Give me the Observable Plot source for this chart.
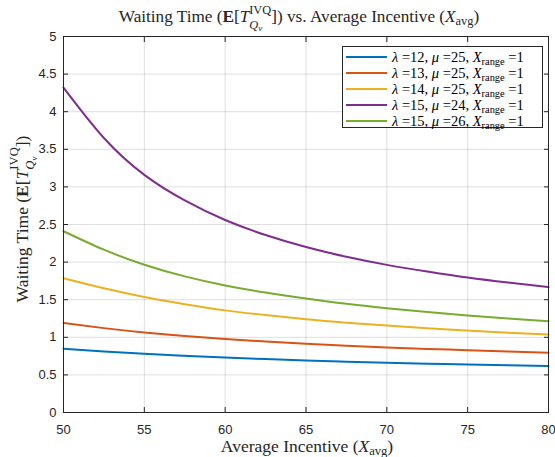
<!DOCTYPE html>
<html>
<head>
<meta charset="utf-8">
<script src="https://cdn.jsdelivr.net/npm/d3@7"></script>
<script src="https://cdn.jsdelivr.net/npm/@observablehq/plot@0.6"></script>
<style>
  html, body { margin: 0; padding: 0; background: #fff; }
  #wrap { position: relative; width: 555px; height: 457px; overflow: hidden; }
  .tx { position: absolute; font-family: "Liberation Serif", "DejaVu Serif", serif; color: #262626; white-space: nowrap; line-height: 1.2; }
  .it { font-style: italic; }
  .bf { font-weight: bold; }
  .ss { display: inline-block; vertical-align: middle; line-height: 1; text-align: left; position: relative; }
  .ss .up { display: block; font-size: 0.72em; position: relative; top: -0.2em; }
  .ss .dn { display: block; font-size: 0.72em; position: relative; top: 0.05em; }
  sub { font-size: 0.72em; vertical-align: -0.25em; line-height: 0; }
  #legend { position: absolute; background: #fff; border: 1px solid #262626; box-sizing: border-box; }
  #legend .row { position: absolute; left: 0; height: 16px; display: flex; align-items: center; }
  #legend .sw { width: 41px; height: 2px; margin-left: 3px; margin-right: 5px; }
  #legend .lt { font-family: "Liberation Serif", "DejaVu Serif", serif; font-size: 14.5px; color: #000; white-space: nowrap; }
</style>
</head>
<body>
<div id="wrap"></div>
<script>
// ---- data ----
const xValues = [50, 52.5, 55, 57.5, 60, 62.5, 65, 67.5, 70, 72.5, 75, 77.5, 80];
const seriesLabels = ["λ12μ25", "λ13μ25", "λ14μ25", "λ15μ24", "λ15μ26"];
const lambdas = [12, 13, 14, 15, 15];
const mus = [25, 25, 25, 24, 26];
const xRange = 1;
const s1 = [0.848, 0.812, 0.780, 0.754, 0.730, 0.710, 0.692, 0.676, 0.662, 0.649, 0.638, 0.628, 0.620];
const s2 = [1.190, 1.122, 1.064, 1.017, 0.978, 0.944, 0.915, 0.889, 0.866, 0.846, 0.828, 0.811, 0.795];
const s3 = [1.786, 1.652, 1.536, 1.440, 1.358, 1.295, 1.240, 1.195, 1.156, 1.120, 1.090, 1.062, 1.037];
const s4 = [4.32, 3.65, 3.16, 2.82, 2.56, 2.36, 2.20, 2.07, 1.963, 1.875, 1.795, 1.728, 1.667];
const s5 = [2.41, 2.165, 1.965, 1.81, 1.69, 1.595, 1.515, 1.445, 1.387, 1.335, 1.29, 1.25, 1.214];
const seriesValues = [s1, s2, s3, s4, s5];
const colors = ["#0072BD", "#D95319", "#EDB120", "#7E2F8E", "#77AC30"];
const xTicks = [50, 55, 60, 65, 70, 75, 80];
const yTicks = [0, 0.5, 1, 1.5, 2, 2.5, 3, 3.5, 4, 4.5, 5];

const rows = [];
seriesValues.forEach((vals, i) => vals.forEach((v, j) => rows.push({x: xValues[j], y: v, s: seriesLabels[i]})));

const W = 555, H = 457;
const chart = Plot.plot({
  width: W, height: H,
  marginLeft: 63, marginRight: 7, marginTop: 36, marginBottom: 45,
  style: {fontFamily: "'Liberation Sans', Arial, sans-serif", fontSize: "13px", color: "#262626", background: "#fff"},
  x: {domain: [50, 80]},
  y: {domain: [0, 5]},
  color: {domain: seriesLabels, range: colors},
  marks: [
    Plot.gridX(xTicks, {stroke: "#262626", strokeOpacity: 0.15, strokeWidth: 1}),
    Plot.gridY(yTicks, {stroke: "#262626", strokeOpacity: 0.15, strokeWidth: 1}),
    Plot.line(rows, {x: "x", y: "y", stroke: "s", z: "s", strokeWidth: 2, curve: "natural"}),
    Plot.axisX(xTicks, {anchor: "bottom", tickSize: 0, tickPadding: 12, label: null, tickFormat: d => String(d), fontSize: 13}),
    Plot.axisY(yTicks, {anchor: "left", tickSize: 0, tickPadding: 7, label: null, tickFormat: d => String(d), fontSize: 13}),
    Plot.axisX(xTicks, {anchor: "bottom", tickSize: -5, label: null, tickFormat: () => "", stroke: "#262626"}),
    Plot.axisX(xTicks, {anchor: "top", tickSize: -5, label: null, tickFormat: () => "", stroke: "#262626"}),
    Plot.axisY(yTicks, {anchor: "left", tickSize: -5, label: null, tickFormat: () => "", stroke: "#262626"}),
    Plot.axisY(yTicks, {anchor: "right", tickSize: -5, label: null, tickFormat: () => "", stroke: "#262626"}),
    Plot.frame({stroke: "#262626", strokeWidth: 1})
  ]
});
const wrap = document.getElementById("wrap");
wrap.appendChild(chart);

function addText(html, css) {
  const d = document.createElement("div");
  d.className = "tx";
  d.innerHTML = html;
  Object.assign(d.style, css);
  wrap.appendChild(d);
  return d;
}
const TQ = '<span class="it">T</span><span class="ss"><span class="up">IVQ</span><span class="dn"><span class="it">Q</span><sub class="it">v</sub></span></span>';
// title
addText('Waiting Time (<span class="bf">E</span>[' + TQ + ']) vs. Average Incentive (<span class="it">X</span><sub>avg</sub>)',
  {left: "299px", top: "18px", fontSize: "17.2px", transform: "translate(-50%,-50%)"});
// x label
addText('Average Incentive (<span class="it">X</span><sub>avg</sub>)',
  {left: "307px", top: "447px", fontSize: "17.5px", lineHeight: "1", transform: "translate(-50%,-50%)"});
// y label
addText('Waiting Time (<span class="bf">E</span>[' + TQ + '])',
  {left: "24px", top: "219px", fontSize: "17.5px", transform: "translate(-50%,-50%) rotate(-90deg)"});

// legend
const lg = document.createElement("div");
lg.id = "legend";
Object.assign(lg.style, {left: "342px", top: "46px", width: "201px", height: "82px"});
seriesLabels.forEach((s, i) => {
  const r = document.createElement("div");
  r.className = "row";
  r.style.top = (2 + i * 16) + "px";
  r.innerHTML = '<div class="sw" style="background:' + colors[i] + '"></div>' +
    '<span class="lt"><span class="it">λ</span> =' + lambdas[i] + ', <span class="it">μ</span> =' + mus[i] +
    ', <span class="it">X</span><sub>range</sub> =' + xRange + '</span>';
  lg.appendChild(r);
});
wrap.appendChild(lg);
</script>
</body>
</html>
